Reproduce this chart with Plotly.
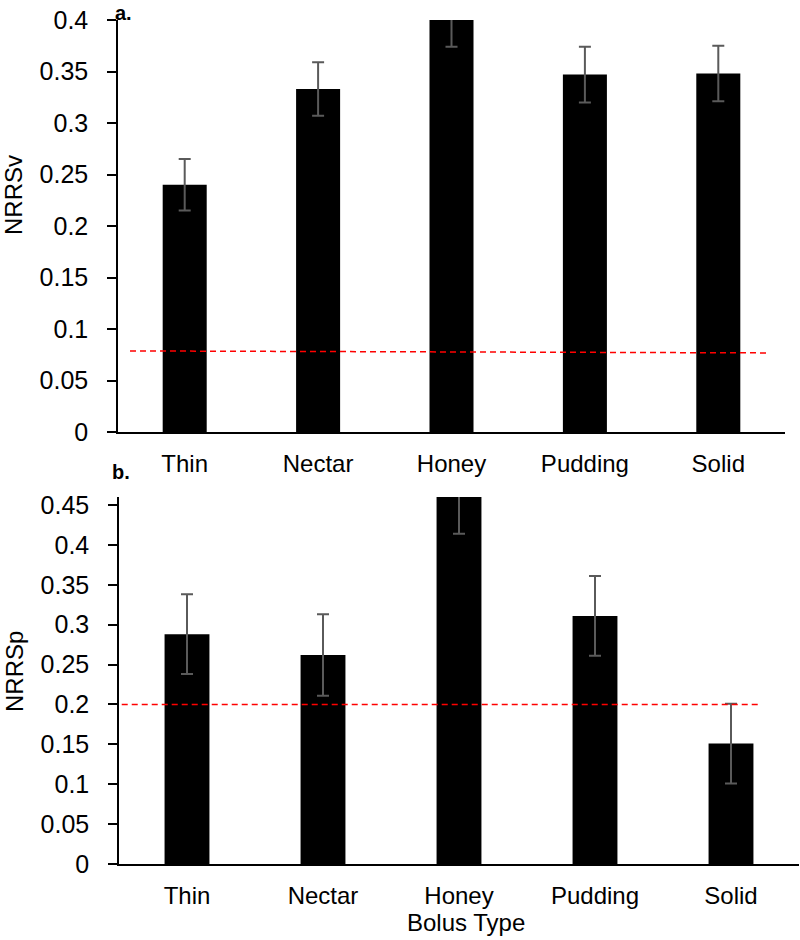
import plotly.graph_objects as go

# Data
categories = ["Thin", "Nectar", "Honey", "Pudding", "Solid"]
nrrsv = [0.240, 0.333, 0.400, 0.347, 0.348]
nrrsv_err = [0.025, 0.026, 0.026, 0.027, 0.027]
nrrsp = [0.288, 0.262, 0.464, 0.311, 0.151]
nrrsp_err = [0.050, 0.051, 0.050, 0.050, 0.050]

# reference (dashed) lines
ref_v_x = [-0.41, 4.37]
ref_v_y = [0.0787, 0.0768]
ref_p_x = [-0.48, 4.20]
ref_p_y = [0.200, 0.200]

font_name = "Liberation Sans, Arial, sans-serif"
err_color = "#5a5a5a"
W, H = 800, 940

fig = go.Figure()


def add_panel(fig, values, errors, ref_x, ref_y, xa, ya):
    fig.add_trace(go.Bar(
        x=list(range(len(categories))), y=values,
        width=0.33,
        marker=dict(color="black", line=dict(width=0)),
        error_y=dict(type="data", array=errors, color=err_color,
                     thickness=2, width=6),
        xaxis=xa, yaxis=ya, showlegend=False,
    ))
    fig.add_trace(go.Scatter(
        x=ref_x, y=ref_y, mode="lines",
        line=dict(color="#ff0000", width=1.5, dash="6px,4px"),
        xaxis=xa, yaxis=ya, showlegend=False,
    ))


add_panel(fig, nrrsv, nrrsv_err, ref_v_x, ref_v_y, "x", "y")
add_panel(fig, nrrsp, nrrsp_err, ref_p_x, ref_p_y, "x2", "y2")

xcommon = dict(
    range=[-0.5, 4.5], tickmode="array",
    tickvals=list(range(len(categories))), ticktext=categories,
    showline=True, linecolor="black", linewidth=1.5,
    showgrid=False, zeroline=False, ticks="", automargin=False,
    ticklabelstandoff=9,
    tickfont=dict(size=24, color="black", family=font_name),
)
ycommon = dict(
    dtick=0.05, showline=True, linecolor="black", linewidth=1.5,
    showgrid=False, zeroline=False, ticks="outside", ticklen=9,
    tickcolor="black", tickwidth=1.5, ticklabelstandoff=14,
    automargin=False,
    tickfont=dict(size=25, color="black", family=font_name),
)

fig.update_layout(
    width=W, height=H,
    margin=dict(l=0, r=0, t=0, b=0, autoexpand=False),
    paper_bgcolor="white", plot_bgcolor="white",
    font=dict(family=font_name, color="black"),
    bargap=0.67,
    xaxis=dict(domain=[118 / W, 785 / W], anchor="y", **xcommon),
    yaxis=dict(domain=[1 - 432 / H, 1 - 20 / H], anchor="x",
               range=[0, 0.4], **ycommon),
    xaxis2=dict(domain=[119 / W, 799 / W], anchor="y2", **xcommon),
    yaxis2=dict(domain=[1 - 864 / H, 1 - 497 / H], anchor="x2",
                range=[0, 0.46], **ycommon),
)

annotations = [
    dict(text="NRRSv", x=14 / W, y=1 - 195 / H, textangle=-90),
    dict(text="NRRSp", x=14 / W, y=1 - 672 / H, textangle=-90),
    dict(text="Bolus Type", x=466 / W, y=1 - 922 / H),
]
for a in annotations:
    fig.add_annotation(xref="paper", yref="paper", showarrow=False,
                       xanchor="center", yanchor="middle",
                       font=dict(size=24, color="black", family=font_name), **a)

# panel letters
fig.add_annotation(text="<b>a.</b>", x=123 / W, y=1.0, xref="paper", yref="paper",
                   showarrow=False, xanchor="center", yanchor="top",
                   font=dict(size=20, color="black", family=font_name))
fig.add_annotation(text="<b>b.</b>", x=121 / W, y=1 - 472 / H, xref="paper", yref="paper",
                   showarrow=False, xanchor="center", yanchor="middle",
                   font=dict(size=20, color="black", family=font_name))

# page has a default 8px body margin; drop it so the figure sits at (0, 0)
fig.write_html("out.html", config={"displayModeBar": False},
               post_script="document.body.style.margin='0';")
